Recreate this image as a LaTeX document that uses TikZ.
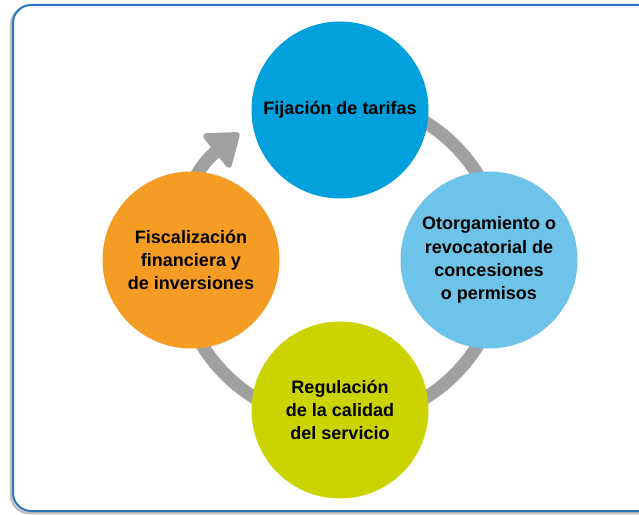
\documentclass[tikz,border=0pt]{standalone}
\usepackage{fontspec}
\setmainfont{Liberation Sans}
\usetikzlibrary{arrows.meta}
\definecolor{framec}{RGB}{46,117,190}
\definecolor{cTop}{RGB}{0,160,220}
\definecolor{cRight}{RGB}{110,195,232}
\definecolor{cBottom}{RGB}{204,212,0}
\definecolor{cLeft}{RGB}{245,156,36}
\definecolor{ringc}{RGB}{160,160,160}
\tikzset{
  x=1pt, y=1pt,
  bubble/.style={circle, minimum size=177pt, inner sep=0pt, align=center,
    font=\bfseries\fontsize{18}{23.3}\selectfont, text=black},
  ringline/.style={draw=ringc, line width=13pt}
}
\begin{document}
\begin{tikzpicture}
\useasboundingbox (0,0) rectangle (639,514);
\clip (0,0) rectangle (639,514);
% frame with shadow
\draw[black!25, line width=2.5pt, rounded corners=18pt] (11,1) rectangle (662,507);
\draw[framec, line width=2pt, fill=white, rounded corners=18pt] (13,3) rectangle (664,509);
% ring centre
\coordinate (c) at (340,254);
% ring with arrow
\draw[ringline, -{Triangle[width=47pt, length=33pt, line width=6pt, round]}]
  (c) ++(115:162) arc[start angle=115, end angle=-231.5, radius=162];
% circles
\node[bubble, fill=cTop] (top) at (340,404) {Fijación de tarifas};
\node[bubble, fill=cRight] (right) at (489,254) {Otorgamiento o\\revocatorial de\\concesiones\\o permisos};
\node[bubble, fill=cBottom] (bottom) at (340,104) {Regulación\\de la calidad\\del servicio};
\node[bubble, fill=cLeft] (left) at (191,254) {Fiscalización\\financiera y\\de inversiones};
\end{tikzpicture}
\end{document}
